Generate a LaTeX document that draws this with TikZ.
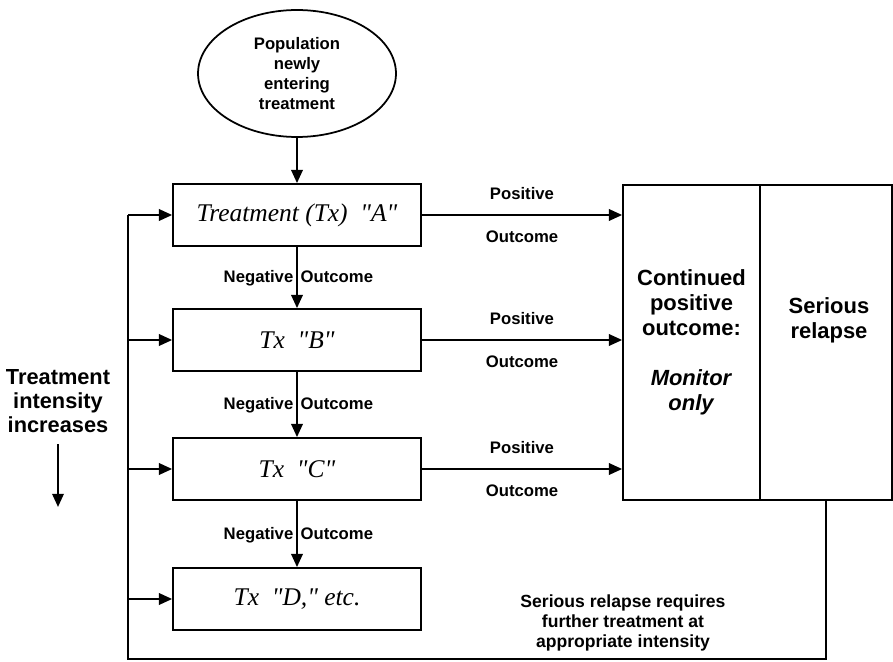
\documentclass[tikz,border=0pt]{standalone}
\usepackage{fontspec}
\setmainfont{Liberation Sans}
\newfontfamily\txfont{Liberation Serif}
\usetikzlibrary{arrows.meta,shapes.geometric,positioning}

\tikzset{
  txbox/.style={draw, line width=1pt, minimum width=4.96cm, minimum height=1.24cm,
    inner sep=0pt, font=\txfont\itshape\fontsize{14.5}{17}\selectfont},
  outbox/.style={draw, line width=1pt, minimum height=6.3cm, inner sep=0pt},
  flow/.style={line width=1.2pt, -{Triangle[length=7.5pt,width=6.5pt]}},
  lbl/.style={font=\bfseries\fontsize{9.5}{11}\selectfont, inner sep=1.5pt,
    text height=1.6ex, text depth=0.45ex},
  bigtxt/.style={font=\bfseries\fontsize{12.5}{14.2}\selectfont, align=center}
}

\begin{document}
\begin{tikzpicture}[x=0.02cm, y=-0.02cm]
    \useasboundingbox (0,0) rectangle (893,662);

    % Population entering
    \node[ellipse, draw, line width=1pt, minimum width=3.96cm, minimum height=2.54cm,
      align=center, inner sep=0pt, font=\bfseries\fontsize{9.5}{11.4}\selectfont]
      (pop) at (297,73.5) {Population\\newly\\entering\\treatment};

    % Treatment steps
    \node[txbox] (A) at (297,215) {Treatment (Tx)~~"A"};
    \node[txbox] (B) at (297,340) {Tx~~"B"};
    \node[txbox] (C) at (297,469) {Tx~~"C"};
    \node[txbox] (D) at (297,599) {Tx~~"D," etc.};

    % Outcome boxes
    \node[outbox, minimum width=2.74cm, bigtxt] (cont) at (691.5,342.5)
      {Continued\\positive\\outcome:\\[14.2pt]\textit{Monitor}\\\textit{only}};
    \node[outbox, minimum width=2.64cm] (relapse) at (826,342.5) {};
    \node[bigtxt] (relapsetxt) at (829,320.5) {Serious\\relapse};

    \draw[flow] (pop) -- (A);

    % Negative outcomes
    \foreach \u/\l in {A/B,B/C,C/D}
      \draw[flow] (\u) -- (\l) node[lbl, midway, left] {Negative}
        node[lbl, midway, right] {Outcome};

    % Positive outcomes
    \foreach \n in {A,B,C}
      \draw[flow] (\n.east) -- (cont.west |- \n.east)
        node[lbl, midway, above=4.5pt] {Positive}
        node[lbl, midway, below=5pt] {Outcome};

    % Relapse loop
    \coordinate (loopbot) at (128,659);
    \draw[line width=1.2pt] (relapse.south) |- (loopbot) -- (loopbot |- A.west);
    \foreach \n in {A,B,C,D}
      \draw[flow] (loopbot |- \n.west) -- (\n.west);
    \node[align=center, font=\bfseries\fontsize{10}{11.4}\selectfont] (relnote) at (623,623)
      {Serious relapse requires\\further treatment at\\appropriate intensity};

    % Intensity
    \node[bigtxt, font=\bfseries\fontsize{12.4}{13.7}\selectfont] (intens) at (58,401)
      {Treatment\\intensity\\increases};
    \coordinate (intensend) at (58,507);
    \draw[flow, shorten <=3pt] (intens.south) -- (intensend);
\end{tikzpicture}
\end{document}
